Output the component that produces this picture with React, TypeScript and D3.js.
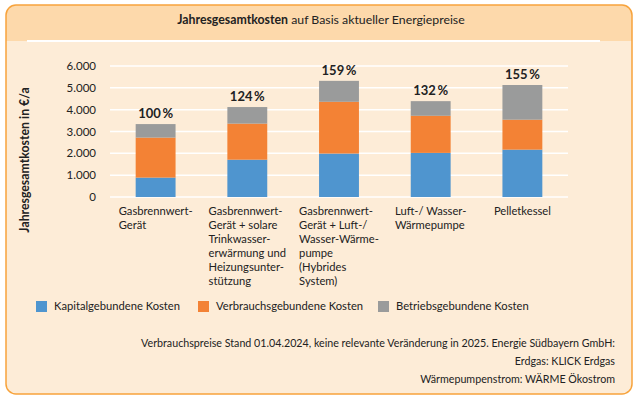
import React, { useRef, useEffect } from 'react';
import * as d3 from 'd3';

const categories = [
  ['Gasbrennwert-', 'Gerät'],
  ['Gasbrennwert-', 'Gerät + solare', 'Trinkwasser-', 'erwärmung und', 'Heizungsunter-', 'stützung'],
  ['Gasbrennwert-', 'Gerät + Luft-/', 'Wasser-Wärme-', 'pumpe', '(Hybrides', 'System)'],
  ['Luft-/ Wasser-', 'Wärmepumpe'],
  ['Pelletkessel'],
];
const kapital = [890, 1710, 1990, 2020, 2170];
const verbrauch = [1830, 1650, 2370, 1700, 1370];
const betrieb = [620, 760, 960, 670, 1590];
const percentLabels = ['100\u2009%', '124\u2009%', '159\u2009%', '132\u2009%', '155\u2009%'];
const yTicks = [0, 1000, 2000, 3000, 4000, 5000, 6000];
const seriesNames = ['Kapitalgebundene Kosten', 'Verbrauchsgebundene Kosten', 'Betriebsgebundene Kosten'];
const colors = ['#4f95cf', '#f38235', '#9a9b9b'];
const footnote = [
  'Verbrauchspreise Stand 01.04.2024, keine relevante Veränderung in 2025. Energie Südbayern GmbH:',
  'Erdgas: KLICK Erdgas',
  'Wärmepumpenstrom: WÄRME Ökostrom',
];

const FONT = 'Lato, "Liberation Sans", sans-serif';

const App = () => {
  const svgRef = useRef<SVGSVGElement>(null);

  useEffect(() => {
    const svg = d3.select(svgRef.current);
    svg.selectAll('*').remove();

    // frame
    svg.append('rect')
      .attr('x', 6).attr('y', 5).attr('width', 626).attr('height', 389)
      .attr('rx', 10).attr('fill', '#fdecd7');
    svg.append('path')
      .attr('d', 'M6,41 V15 A10,10 0 0 1 16,5 H622 A10,10 0 0 1 632,15 V41 Z')
      .attr('fill', '#fdd9ab');
    svg.append('rect')
      .attr('x', 27).attr('y', 40).attr('width', 573).attr('height', 2).attr('fill', '#fff');
    svg.append('rect')
      .attr('x', 6).attr('y', 5).attr('width', 626).attr('height', 389)
      .attr('rx', 10).attr('fill', 'none').attr('stroke', '#f7a33c').attr('stroke-width', 1.5);

    const title = svg.append('text')
      .attr('x', 321).attr('y', 24).attr('text-anchor', 'middle')
      .attr('font-family', FONT).attr('font-size', 12.3).attr('fill', '#222');
    title.append('tspan').attr('font-weight', 'bold').text('Jahresgesamtkosten');
    title.append('tspan').text(' auf Basis aktueller Energiepreise');

    const x = d3.scaleBand<number>()
      .domain(d3.range(categories.length))
      .range([110, 568])
      .paddingInner(0.565)
      .paddingOuter(0.28);
    const y = d3.scaleLinear().domain([0, 6000]).range([197, 66]);
    const de = d3.formatLocale({ decimal: ',', thousands: '.', grouping: [3], currency: ['', '€'] });
    const fmt = de.format(',');

    // grid
    svg.append('g').selectAll('line').data(yTicks).join('line')
      .attr('x1', 110).attr('x2', 568)
      .attr('y1', d => y(d)).attr('y2', d => y(d))
      .attr('stroke', '#fff').attr('stroke-width', 1.5);

    svg.append('g').selectAll('text').data(yTicks).join('text')
      .attr('x', 96).attr('y', d => y(d)).attr('dy', '0.35em')
      .attr('text-anchor', 'end').attr('font-family', FONT).attr('font-size', 11.5)
      .attr('fill', '#222').text(d => fmt(d));

    svg.append('text')
      .attr('transform', 'translate(29,160) rotate(-90)')
      .attr('text-anchor', 'middle').attr('font-family', FONT).attr('font-size', 12.3)
      .attr('font-weight', 'bold').attr('fill', '#222')
      .text('Jahresgesamtkosten in €/a');

    // stacked bars
    const rows = categories.map((_, i) => ({ i, k: kapital[i], v: verbrauch[i], b: betrieb[i] }));
    const stacked = d3.stack<any>().keys(['k', 'v', 'b'])(rows);
    svg.append('g').selectAll('g').data(stacked).join('g')
      .attr('fill', (_, j) => colors[j])
      .selectAll('rect').data(d => d).join('rect')
      .attr('x', d => x(d.data.i)!)
      .attr('width', x.bandwidth())
      .attr('y', d => y(d[1]))
      .attr('height', d => y(d[0]) - y(d[1]));

    const top = stacked[stacked.length - 1];
    svg.append('g').selectAll('text').data(top).join('text')
      .attr('x', d => x(d.data.i)! + x.bandwidth() / 2)
      .attr('y', d => y(d[1]) - 6)
      .attr('text-anchor', 'middle').attr('font-family', FONT).attr('font-size', 13)
      .attr('font-weight', 'bold').attr('fill', '#222')
      .text((_, i) => percentLabels[i]);

    // category labels
    categories.forEach((lines, i) => {
      const t = svg.append('text')
        .attr('font-family', FONT).attr('font-size', 11.2).attr('fill', '#222');
      lines.forEach((l, j) => {
        t.append('tspan').attr('x', 0).attr('y', 215 + j * 14).text(l);
      });
      const w = (t.node() as SVGTextElement).getBBox().width;
      t.attr('transform', `translate(${x(i)! + x.bandwidth() / 2 - w / 2},0)`);
    });

    // legend
    const legendX = [36, 198, 378];
    const lg = svg.append('g').selectAll('g').data(seriesNames).join('g')
      .attr('transform', (_, i) => `translate(${legendX[i]},301)`);
    lg.append('rect').attr('width', 11).attr('height', 11).attr('fill', (_, i) => colors[i]);
    lg.append('text').attr('x', 18).attr('y', 5.5).attr('dy', '0.35em')
      .attr('font-family', FONT).attr('font-size', 11.2).attr('fill', '#222')
      .text(d => d);

    svg.append('g').selectAll('text').data(footnote).join('text')
      .attr('x', 615).attr('y', (_, i) => 347 + i * 18)
      .attr('text-anchor', 'end').attr('font-family', FONT).attr('font-size', 10.7)
      .attr('fill', '#222').text(d => d);
  }, []);

  return (
    <svg ref={svgRef} width={636} height={398}
      style={{ position: 'absolute', left: 0, top: 0, background: '#fff' }} />
  );
};

export default App;
